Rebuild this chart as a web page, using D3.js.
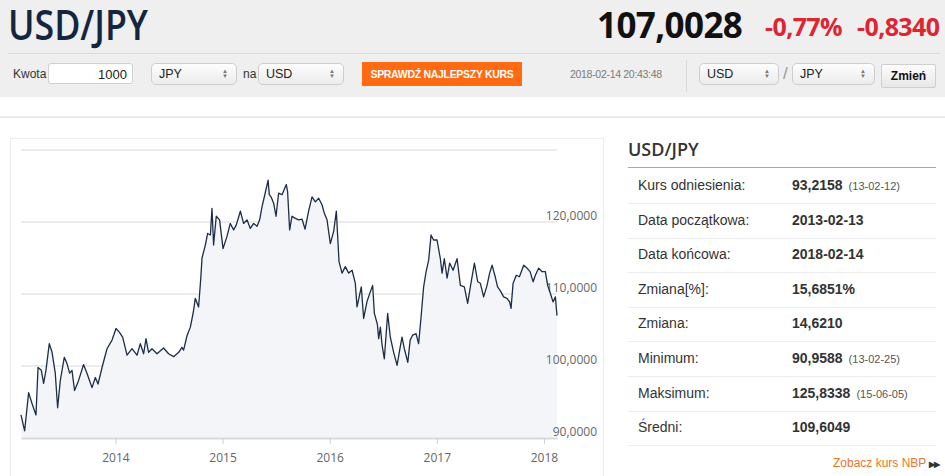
<!DOCTYPE html>
<html>
<head>
<meta charset="utf-8">
<script src="https://cdn.jsdelivr.net/npm/d3@7/dist/d3.min.js"></script>
<style>
body{margin:0;width:945px;height:476px;overflow:hidden;background:#fff;font-family:Arial,"Liberation Sans",sans-serif;position:relative}
.abs{position:absolute}
#head{left:0;top:0;width:945px;height:97px;background:#efefef}
#title{left:0;top:0}
#kurs{left:597px;top:1px;font-family:"Open Sans",sans-serif;font-weight:700;font-size:35px;color:#111;letter-spacing:-0.6px}
.red{font-family:"Open Sans",sans-serif;font-weight:700;font-size:25px;color:#dd2631;top:9px;letter-spacing:-0.6px}
#sep1{left:8px;top:53px;width:932px;height:1px;background:#d9d9d9}
.lbl{font-size:12px;color:#333;top:67px}
.inp{height:21px;top:63px;background:#fff;border:1px solid #d0d0d0;border-radius:3px;font-size:13px;color:#222;line-height:21px;box-sizing:border-box}
.sel{height:22px;top:63px;border:1px solid #cdcdcd;border-radius:5px;background:linear-gradient(#fdfdfd,#ececec);font-size:12.5px;color:#222;line-height:20px;box-sizing:border-box;padding-left:7px}
.sel span{position:absolute;right:8px;top:5px;font-size:6px;line-height:5px;color:#777}
#btn{left:362px;top:62px;width:160px;height:24px;background:#ff6a12;color:#fff;font-weight:700;font-size:10.5px;line-height:24px;text-align:center;letter-spacing:-0.3px}
#stamp{left:570px;top:68px;font-size:10.5px;color:#7a7a7a;letter-spacing:-0.3px}
#vsep{left:686px;top:60px;width:1px;height:32px;background:#dadada}
#zm{left:881px;top:64px;width:55px;height:24px;border:1px solid #cfcfcf;border-radius:2px;background:linear-gradient(#fcfcfc,#e8e8e8);font-weight:700;font-size:12px;line-height:22px;text-align:center;box-sizing:border-box;color:#111}
#line2{left:0;top:116px;width:945px;height:2px;background:#ececec}
#box{left:10px;top:138px;width:594px;height:360px;border:1px solid #ececec;box-sizing:border-box}
#ph{left:628px;top:137px;font-family:"Open Sans",sans-serif;font-weight:600;font-size:18px;color:#333}
#phl{left:628px;top:167px;width:308px;height:1px;background:#a8a8a8}
.rl{left:638px;font-size:14px;color:#333}
.rv{left:792px;font-size:14px;font-weight:700;color:#333}
.rv small{font-weight:400;font-size:11px;color:#555;margin-left:6px}
.rs{left:628px;width:308px;height:1px;background:#ececec}
#nbp{left:833px;top:456px;font-size:12px;color:#e8762d}
#nbp b{font-size:8px;letter-spacing:-1px;margin-left:3px;color:#333}
#grafico{left:0;top:0}
</style>
</head>
<body>
<div id="head" class="abs"></div>
<svg id="title" class="abs" width="280" height="56"><text x="8" y="40" textLength="140" lengthAdjust="spacingAndGlyphs" style="font-family:'Open Sans',sans-serif;font-weight:600;font-size:41px;fill:#14253f">USD/JPY</text></svg>
<div id="kurs" class="abs">107,0028</div>
<div class="abs red" style="left:765px">-0,77%</div>
<div class="abs red" style="left:857px">-0,8340</div>
<div id="sep1" class="abs"></div>
<div class="abs lbl" style="left:13px">Kwota</div>
<div class="abs inp" style="left:48px;width:85px;text-align:right;padding-right:5px">1000</div>
<div class="abs sel" style="left:151px;width:86px">JPY<span>&#9650;<br>&#9660;</span></div>
<div class="abs lbl" style="left:243px">na</div>
<div class="abs sel" style="left:258px;width:86px">USD<span>&#9650;<br>&#9660;</span></div>
<div id="btn" class="abs">SPRAWDŹ NAJLEPSZY KURS</div>
<div id="stamp" class="abs">2018-02-14 20:43:48</div>
<div id="vsep" class="abs"></div>
<div class="abs sel" style="left:699px;width:80px">USD<span>&#9650;<br>&#9660;</span></div>
<div class="abs" style="left:783px;top:64px;font-size:17px;color:#999">/</div>
<div class="abs sel" style="left:792px;width:83px">JPY<span>&#9650;<br>&#9660;</span></div>
<div id="zm" class="abs">Zmień</div>
<div id="line2" class="abs"></div>
<div id="box" class="abs"></div>
<div id="ph" class="abs">USD/JPY</div>
<div id="phl" class="abs"></div>
<div id="panel"></div>
<div id="nbp" class="abs">Zobacz kurs NBP<b>&#9654;&#9654;</b></div>
<div id="grafico" class="abs"></div>
<script>
// kurs USD/JPY, daty jako ulamki roku
const years=[2013.118,2013.152,2013.189,2013.221,2013.258,2013.277,2013.308,2013.329,2013.351,2013.382,
2013.408,2013.438,2013.460,2013.485,2013.522,2013.548,2013.572,2013.594,2013.618,2013.656,
2013.702,2013.734,2013.781,2013.812,2013.837,2013.880,2013.921,2013.968,2014.005,2014.036,
2014.067,2014.108,2014.154,2014.201,2014.232,2014.263,2014.285,2014.309,2014.341,2014.388,
2014.449,2014.496,2014.543,2014.590,2014.621,2014.636,2014.668,2014.699,2014.727,2014.745,
2014.776,2014.795,2014.808,2014.839,2014.860,2014.886,2014.901,2014.916,2014.941,2014.972,
2015.004,2015.041,2015.072,2015.103,2015.128,2015.166,2015.196,2015.228,2015.259,2015.290,
2015.322,2015.346,2015.368,2015.425,2015.436,2015.452,2015.477,2015.499,2015.523,2015.555,
2015.595,2015.607,2015.626,2015.648,2015.679,2015.710,2015.742,2015.770,2015.803,2015.835,
2015.866,2015.897,2015.928,2015.950,2015.975,2016.006,2016.037,2016.062,2016.087,2016.115,
2016.146,2016.177,2016.209,2016.239,2016.255,2016.295,2016.317,2016.349,2016.379,2016.401,
2016.417,2016.445,2016.457,2016.473,2016.489,2016.510,2016.541,2016.566,2016.597,2016.629,
2016.653,2016.675,2016.697,2016.729,2016.751,2016.775,2016.806,2016.830,2016.853,2016.877,
2016.900,2016.924,2016.946,2016.970,2017.002,2017.033,2017.049,2017.070,2017.096,2017.120,
2017.152,2017.189,2017.220,2017.257,2017.288,2017.313,2017.351,2017.382,2017.406,2017.437,
2017.469,2017.493,2017.516,2017.545,2017.567,2017.591,2017.624,2017.655,2017.680,2017.693,
2017.712,2017.742,2017.771,2017.811,2017.842,2017.871,2017.899,2017.920,2017.951,2017.983,
2018.013,2018.035,2018.060,2018.085,2018.107,2018.122]
const rates=[93.2,91.0,96.3,94.8,93.2,99.8,99.4,97.6,99.4,103.1,
101.9,99.0,94.2,98.0,101.2,100.3,99.0,99.4,96.6,98.0,
100.2,99.0,97.0,98.4,97.5,100.1,102.4,103.6,105.2,104.7,
104.0,101.5,102.4,101.5,103.1,101.7,103.8,101.9,102.4,101.7,
102.5,101.7,101.3,101.9,102.6,102.2,104.2,105.4,107.5,109.4,
108.2,111.9,115.0,116.8,118.4,118.2,121.9,116.8,120.8,120.3,
116.3,118.0,119.8,118.9,119.6,121.5,119.8,120.3,119.1,119.8,
119.4,120.3,122.1,125.8,123.8,123.5,122.6,120.8,124.0,123.8,
125.2,124.2,118.9,120.8,120.5,120.3,120.4,119.0,121.5,123.5,
122.8,123.3,122.4,121.2,120.3,117.0,118.7,121.5,114.5,112.9,
113.8,112.9,113.3,111.5,108.2,111.0,106.6,109.0,110.3,111.2,
107.3,105.8,103.8,105.4,102.9,101.0,107.3,104.0,101.9,100.1,
102.2,104.0,102.4,100.5,103.6,104.3,104.5,103.1,106.8,111.0,
113.1,114.7,118.2,117.5,117.5,114.9,112.9,114.9,112.2,114.3,
113.3,114.9,111.2,111.0,108.7,111.0,114.3,111.7,111.5,109.6,
111.2,112.9,114.0,112.4,111.0,110.5,109.6,109.4,108.9,108.0,
111.5,112.6,112.4,114.0,113.6,113.1,111.7,112.6,113.6,113.1,
113.1,111.2,110.1,108.9,109.6,107.0]
const xTicks=[2014,2015,2016,2017,2018]
const gridTicks=[100,110,120,130]
const labelTicks=[90,100,110,120]

const statLabels=["Kurs odniesienia:","Data początkowa:","Data końcowa:","Zmiana[%]:","Zmiana:","Minimum:","Maksimum:","Średni:"]
const statValues=["93,2158","2013-02-13","2018-02-14","15,6851%","14,6210","90,9588","125,8338","109,6049"]
const statDates=["(13-02-12)","","","","","(13-02-25)","(15-06-05)",""]

// tabela po prawej
statLabels.forEach((l,i)=>{
    let top=186+i*34.6
    d3.select("#panel").append("div").attr("class","abs rl").style("top",(top-9)+"px").text(l)
    d3.select("#panel").append("div").attr("class","abs rv").style("top",(top-9)+"px")
      .html(statValues[i]+(statDates[i]?`<small>${statDates[i]}</small>`:""))
    d3.select("#panel").append("div").attr("class","abs rs").style("top",(top+17)+"px")
})

const pl=d3.formatLocale({decimal:",",thousands:" ",grouping:[3],currency:["","zł"]})

const margin={top:150,left:21}
const width=536, height=288

let svg=d3.select("#grafico").append("svg")
    .attr("width",945).attr("height",476)
  .append("g")
    .attr("transform",`translate(${margin.left},${margin.top})`)

let x=d3.scaleLinear().domain([years[0],years[years.length-1]]).range([0,width])
let y=d3.scaleLinear().domain([90,130]).range([height,0])

let data=years.map((d,i)=>[d,rates[i]])

//grid
svg.selectAll(".grid").data(gridTicks).enter().append("line")
    .attr("x1",0).attr("x2",width)
    .attr("y1",d=>y(d)).attr("y2",d=>y(d))
    .attr("stroke","#e6e6e6").attr("stroke-width",1.5)

//area + opisy osi Y
svg.append("path").datum(data)
    .attr("fill","#f3f5f8")
    .attr("d",d3.area().x(d=>x(d[0])).y0(height).y1(d=>y(d[1])))

svg.selectAll(".ylab").data(labelTicks).enter().append("text")
    .attr("x",576).attr("y",d=>y(d)-2.5)
    .attr("text-anchor","end")
    .style("font","12px 'Open Sans'").style("fill","#666")
    .text(d=>pl.format(".4f")(d))

//os X
let xAxis=svg.append("g")
    .attr("transform",`translate(0,${height})`)
    .call(d3.axisBottom(x).tickValues(xTicks).tickFormat(d3.format("d")).tickSize(6).tickSizeOuter(0))
xAxis.select(".domain").attr("stroke","#d6d9de").attr("stroke-width",2)
xAxis.selectAll(".tick line").attr("stroke","#ccd0d6")
xAxis.selectAll("text").style("font","12px 'Open Sans'").style("fill","#666").attr("dy","1.25em")

//linia
svg.append("path").datum(data)
    .attr("fill","none")
    .attr("stroke","#1c2d48")
    .attr("stroke-width",1.3)
    .attr("stroke-linejoin","round")
    .attr("d",d3.line().x(d=>x(d[0])).y(d=>y(d[1])))
</script>
</body>
</html>
